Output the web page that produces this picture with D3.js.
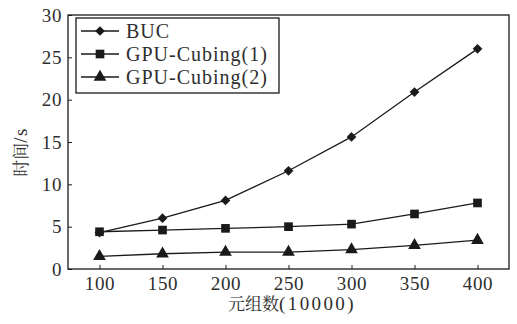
<!DOCTYPE html>
<html>
<head>
<meta charset="utf-8">
<script src="https://cdn.jsdelivr.net/npm/d3@7"></script>
<style>
  body { margin: 0; background: #fff; }
</style>
</head>
<body>
<svg id="chart" width="517" height="324"></svg>
<script>
// Tuple counts (x10000) and run times (s)
const tuples = [100, 150, 200, 250, 300, 350, 400];
const buc = [4.3, 6.0, 8.1, 11.6, 15.6, 20.9, 26.0];
const gpuCubing1 = [4.4, 4.6, 4.8, 5.0, 5.3, 6.5, 7.8];
const gpuCubing2 = [1.5, 1.8, 2.0, 2.0, 2.3, 2.8, 3.4];
const seriesNames = ["BUC", "GPU-Cubing(1)", "GPU-Cubing(2)"];
const yTicks = [0, 5, 10, 15, 20, 25, 30];

const series = [
  { name: seriesNames[0], values: buc, symbol: d3.symbolDiamond2, size: 60 },
  { name: seriesNames[1], values: gpuCubing1, symbol: d3.symbolSquare, size: 75 },
  { name: seriesNames[2], values: gpuCubing2, symbol: d3.symbolTriangle, size: 70 }
];

const margin = { left: 68, top: 15, right: 8, bottom: 55 };
const width = 517, height = 324;
const svg = d3.select("#chart");

const x = d3.scaleLinear().domain([75, 425]).range([margin.left, width - margin.right]);
const y = d3.scaleLinear().domain([0, 30]).range([height - margin.bottom, margin.top]);

const ink = "#1a1a1a";
const textInk = "#2e2e2e";
const latinFont = '"Liberation Serif"';
const cjkFont = '"Noto Serif CJK SC"';

function latin(sel, size, spacing) {
  return sel.style("font-family", latinFont)
    .style("font-size", size + "px")
    .style("letter-spacing", spacing + "px")
    .style("fill", textInk);
}

// Plot frame
svg.append("rect")
  .attr("x", x(75)).attr("y", y(30))
  .attr("width", x(425) - x(75)).attr("height", y(0) - y(30))
  .attr("fill", "none").attr("stroke", ink).attr("stroke-width", 1.3);

// X axis with inward ticks
const xAxis = svg.append("g")
  .attr("transform", `translate(0,${y(0)})`)
  .call(d3.axisBottom(x).tickValues(tuples).tickSize(-4).tickPadding(8));
xAxis.attr("font-family", null).attr("font-size", null);
xAxis.select(".domain").remove();
xAxis.selectAll("line").attr("stroke", ink);
latin(xAxis.selectAll("text"), 19, 0.6);

// Y axis with inward ticks
const yAxis = svg.append("g")
  .attr("transform", `translate(${x(75)},0)`)
  .call(d3.axisLeft(y).tickValues(yTicks).tickSize(-4).tickPadding(6));
yAxis.attr("font-family", null).attr("font-size", null);
yAxis.select(".domain").remove();
yAxis.selectAll("line").attr("stroke", ink);
latin(yAxis.selectAll("text"), 19, 0.6);

// Axis titles
const xTitle = svg.append("text")
  .attr("x", 292).attr("y", 310)
  .attr("text-anchor", "middle");
xTitle.append("tspan")
  .style("font-family", cjkFont).style("font-size", "17px").style("fill", textInk)
  .text("元组数");
latin(xTitle.append("tspan"), 19, 2.4).text("(10000)");

const yTitle = svg.append("text")
  .attr("transform", "translate(27,152) rotate(-90)")
  .attr("text-anchor", "middle");
yTitle.append("tspan")
  .style("font-family", cjkFont).style("font-size", "17px").style("fill", textInk)
  .text("时间");
latin(yTitle.append("tspan"), 19, 1.5).text("/s");

// Series lines and markers
const line = d3.line().x((d, i) => x(tuples[i])).y(d => y(d));
series.forEach(s => {
  svg.append("path")
    .datum(s.values)
    .attr("d", line)
    .attr("fill", "none").attr("stroke", ink).attr("stroke-width", 1.3);
  svg.append("g").selectAll("path")
    .data(s.values)
    .join("path")
    .attr("transform", (d, i) => `translate(${x(tuples[i])},${y(d)})`)
    .attr("d", d3.symbol(s.symbol, s.size))
    .attr("fill", ink);
});

// Legend
const legend = svg.append("g");
legend.append("rect")
  .attr("x", 76).attr("y", 18).attr("width", 203).attr("height", 75)
  .attr("fill", "#fff").attr("stroke", ink).attr("stroke-width", 1.3);
const rowY = [31, 54, 77];
series.forEach((s, i) => {
  const g = legend.append("g").attr("transform", `translate(0,${rowY[i]})`);
  g.append("line").attr("x1", 81).attr("x2", 119).attr("y1", 0).attr("y2", 0)
    .attr("stroke", ink).attr("stroke-width", 1.3);
  g.append("path").attr("transform", "translate(100,0)")
    .attr("d", d3.symbol(s.symbol, s.size)).attr("fill", ink);
  latin(g.append("text").attr("x", 126).attr("y", 7), 20, 1).text(s.name);
});
</script>
</body>
</html>
